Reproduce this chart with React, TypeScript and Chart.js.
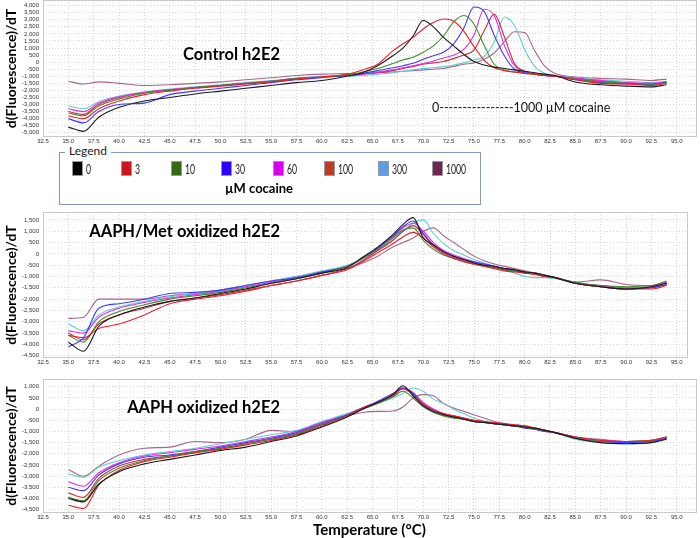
import React, { useEffect, useRef } from "react";
import { Chart, registerables } from "chart.js";
Chart.register(...registerables);

// Temperature grid (°C) shared by all series
const TEMPS = [35, 36.5, 38, 40, 42.5, 45, 47.5, 50, 52.5, 55, 57.5, 60, 62.5, 64, 65.5, 67, 68, 69, 70, 71, 72, 73, 74, 75, 76, 77, 78, 79, 80, 81, 82, 83, 85, 87.5, 90, 92.5, 94];

const CONC_LABELS = ["0", "3", "10", "30", "60", "100", "300", "1000"];
const LINE_COLORS = ["#1a1a1a", "#e8202a", "#3c8c28", "#3b3bff", "#e629e6", "#d02a3c", "#5ccdd2", "#a8648a"];
const LEGEND_COLORS = ["#000000", "#c9191f", "#346a13", "#2d00f7", "#d600ef", "#c13b22", "#5c9fe8", "#6f2551"];

// Tick values
const X_TICKS = [32.5, 35, 37.5, 40, 42.5, 45, 47.5, 50, 52.5, 55, 57.5, 60, 62.5, 65, 67.5, 70, 72.5, 75, 77.5, 80, 82.5, 85, 87.5, 90, 92.5, 95];
const CTRL_Y_TICKS = [-5000, -4500, -4000, -3500, -3000, -2500, -2000, -1500, -1000, -500, 0, 500, 1000, 1500, 2000, 2500, 3000, 3500, 4000];
const MET_Y_TICKS = [-4500, -4000, -3500, -3000, -2500, -2000, -1500, -1000, -500, 0, 500, 1000, 1500];
const OX_Y_TICKS = [-4500, -4000, -3500, -3000, -2500, -2000, -1500, -1000, -500, 0, 500, 1000];

// Panel 1: Control h2E2
const CTRL_0 = [-4600, -4900, -3900, -3200, -2750, -2500, -2250, -2050, -1850, -1650, -1450, -1300, -1000, -750, -250, 450, 1000, 1850, 2950, 2500, 1750, 1150, 550, 50, -200, -350, -450, -550, -650, -750, -850, -950, -1400, -1600, -1700, -1750, -1600];
const CTRL_3 = [-3800, -4000, -3300, -2750, -2300, -2050, -1850, -1700, -1550, -1400, -1200, -1050, -850, -550, -150, 800, 1300, 1750, 2350, 2800, 3050, 2900, 2200, 1100, 150, -400, -600, -700, -800, -850, -950, -1000, -1250, -1500, -1550, -1650, -1500];
const CTRL_10 = [-3600, -3800, -3100, -2600, -2200, -2000, -1800, -1650, -1500, -1350, -1150, -1050, -900, -700, -450, -100, 150, 350, 700, 1150, 1850, 2850, 3300, 2700, 1200, -150, -550, -700, -800, -850, -900, -1000, -1200, -1400, -1500, -1550, -1450];
const CTRL_30 = [-4000, -4300, -3500, -3000, -2900, -2300, -2050, -1850, -1650, -1450, -1250, -1100, -950, -800, -600, -400, -250, -80, 200, 450, 700, 1300, 2400, 3900, 3600, 1900, 450, -500, -750, -850, -950, -1000, -1250, -1450, -1550, -1600, -1450];
const CTRL_60 = [-3300, -3500, -2900, -2450, -2150, -1950, -1800, -1650, -1500, -1350, -1150, -1050, -950, -850, -700, -550, -400, -250, -100, 80, 300, 500, 900, 1900, 3750, 3300, 1200, -250, -700, -850, -950, -1000, -1150, -1300, -1450, -1500, -1400];
const CTRL_100 = [-3500, -3700, -3000, -2500, -2150, -1950, -1800, -1650, -1500, -1350, -1200, -1050, -950, -850, -750, -600, -450, -300, -150, -50, 50, 250, 500, 850, 2200, 3400, 1800, -100, -650, -850, -950, -1000, -1150, -1350, -1450, -1550, -1400];
const CTRL_300 = [-3100, -3300, -2800, -2400, -2100, -1900, -1750, -1600, -1450, -1300, -1150, -1000, -1000, -950, -850, -750, -650, -550, -450, -400, -320, -200, -50, 150, 400, 1400, 3200, 2600, 900, -300, -800, -950, -1100, -1250, -1350, -1450, -1350];
const CTRL_1000 = [-1350, -1550, -1400, -1500, -1650, -1600, -1500, -1400, -1250, -1100, -950, -850, -800, -800, -750, -700, -650, -600, -550, -500, -450, -300, -150, -50, 200, 650, 1450, 2150, 2100, 800, -300, -800, -1050, -1150, -1200, -1300, -1200];

// Panel 2: AAPH/Met oxidized h2E2
const MET_0 = [-3900, -4300, -3200, -2700, -2350, -2100, -1950, -1750, -1550, -1300, -1100, -850, -600, -150, 300, 850, 1300, 1600, 700, 400, 100, -100, -250, -400, -500, -550, -650, -700, -800, -850, -950, -1050, -1300, -1450, -1550, -1450, -1300];
const MET_3 = [-3600, -3700, -3300, -3100, -2700, -2200, -2000, -1850, -1650, -1400, -1200, -950, -700, -350, 50, 450, 750, 950, 700, 300, 0, -200, -350, -450, -550, -650, -750, -800, -850, -900, -1000, -1050, -1300, -1450, -1550, -1550, -1400];
const MET_10 = [-3600, -3900, -3000, -2550, -2250, -2000, -1850, -1700, -1500, -1300, -1100, -850, -550, -200, 200, 700, 1050, 1150, 600, 200, -50, -200, -350, -450, -550, -600, -700, -750, -800, -850, -950, -1050, -1250, -1400, -1450, -1400, -1200];
const MET_30 = [-4100, -3700, -2400, -2200, -2000, -1750, -1700, -1600, -1400, -1200, -1050, -800, -550, -200, 250, 800, 1200, 1450, 900, 400, 100, -100, -250, -350, -450, -550, -650, -750, -800, -850, -950, -1050, -1300, -1450, -1550, -1500, -1350];
const MET_60 = [-3400, -3500, -2800, -2400, -2150, -1950, -1800, -1650, -1450, -1250, -1050, -800, -550, -200, 250, 750, 1150, 1350, 1000, 500, 150, -50, -200, -350, -450, -550, -650, -700, -800, -850, -950, -1050, -1300, -1400, -1500, -1450, -1250];
const MET_100 = [-3500, -3800, -3100, -2700, -2400, -2100, -1950, -1800, -1600, -1400, -1200, -950, -650, -300, 150, 600, 1000, 1250, 850, 350, 50, -150, -300, -400, -500, -600, -700, -750, -850, -900, -1000, -1050, -1300, -1450, -1550, -1500, -1350];
const MET_300 = [-3100, -3400, -2700, -2350, -2100, -1900, -1750, -1600, -1400, -1200, -1000, -750, -500, -200, 150, 600, 1000, 1350, 1500, 900, 450, 150, -50, -250, -400, -550, -700, -850, -1000, -1050, -1050, -1100, -1250, -1400, -1500, -1450, -1300];
const MET_1000 = [-2850, -2800, -2000, -2000, -2000, -1850, -1750, -1600, -1400, -1200, -1000, -800, -650, -400, -100, 300, 500, 700, 1000, 1150, 800, 500, 200, -100, -300, -450, -550, -650, -750, -850, -950, -1050, -1250, -1150, -1350, -1400, -1250];

// Panel 3: AAPH oxidized h2E2
const OX_0 = [-4000, -4150, -3350, -2800, -2450, -2250, -2050, -1850, -1700, -1450, -1200, -800, -350, 0, 300, 650, 1050, 600, 150, -100, -250, -350, -450, -550, -600, -650, -700, -750, -800, -850, -950, -1050, -1300, -1500, -1550, -1500, -1350];
const OX_3 = [-4300, -4450, -3400, -2750, -2350, -2150, -1950, -1800, -1600, -1400, -1150, -750, -300, 50, 300, 600, 900, 650, 200, -50, -200, -300, -400, -500, -550, -600, -650, -700, -750, -850, -950, -1050, -1250, -1400, -1450, -1400, -1250];
const OX_10 = [-3950, -4100, -3200, -2650, -2300, -2100, -1900, -1750, -1550, -1350, -1100, -700, -300, 0, 250, 550, 800, 500, 100, -150, -300, -400, -450, -550, -600, -650, -700, -750, -800, -900, -950, -1050, -1250, -1450, -1450, -1400, -1250];
const OX_30 = [-3500, -3650, -2950, -2450, -2150, -2050, -1900, -1700, -1500, -1300, -1050, -650, -250, 50, 350, 700, 950, 700, 200, -50, -250, -350, -450, -550, -600, -650, -700, -750, -850, -900, -1000, -1050, -1300, -1450, -1500, -1450, -1300];
const OX_60 = [-3250, -3450, -2850, -2400, -2100, -1950, -1800, -1650, -1450, -1250, -1000, -600, -250, 50, 300, 650, 950, 750, 300, 0, -200, -350, -450, -550, -600, -650, -700, -750, -800, -900, -1000, -1050, -1250, -1400, -1450, -1450, -1300];
const OX_100 = [-3750, -3950, -3100, -2550, -2250, -2100, -1950, -1750, -1550, -1350, -1100, -700, -300, 0, 300, 600, 950, 700, 250, 0, -200, -300, -400, -500, -550, -650, -700, -750, -800, -850, -950, -1050, -1300, -1450, -1450, -1450, -1300];
const OX_300 = [-2900, -3050, -2600, -2300, -2050, -1900, -1750, -1550, -1350, -1150, -950, -550, -200, 50, 250, 500, 700, 950, 800, 450, 250, 0, -200, -400, -550, -650, -700, -750, -800, -850, -950, -1050, -1350, -1500, -1550, -1500, -1300];
const OX_1000 = [-2700, -3000, -2550, -2050, -1750, -1700, -1450, -1500, -1350, -950, -1000, -600, -300, -150, -100, -80, 100, 500, 650, 600, 250, 50, -100, -250, -400, -550, -650, -700, -750, -850, -950, -1050, -1250, -1350, -1450, -1400, -1250];

const CONTROL_SERIES = [CTRL_0, CTRL_3, CTRL_10, CTRL_30, CTRL_60, CTRL_100, CTRL_300, CTRL_1000];
const MET_SERIES = [MET_0, MET_3, MET_10, MET_30, MET_60, MET_100, MET_300, MET_1000];
const OX_SERIES = [OX_0, OX_3, OX_10, OX_30, OX_60, OX_100, OX_300, OX_1000];

const boxPlugin = {
  id: "plotBox",
  beforeDatasetsDraw(chart: any) {
    const { ctx, chartArea: a } = chart;
    ctx.save();
    ctx.strokeStyle = "#c9c9c9";
    ctx.lineWidth = 1;
    ctx.strokeRect(Math.round(a.left) + 0.5, Math.round(a.top) + 0.5, Math.round(a.width) - 1, Math.round(a.height) - 1);
    ctx.restore();
  },
};

type PanelProps = {
  top: number;
  height: number;
  padTop: number;
  padRight: number;
  yMin: number;
  yMax: number;
  xMax: number;
  yTicks: number[];
  series: number[][];
};

function Panel({ top, height, padTop, padRight, yMin, yMax, xMax, yTicks, series }: PanelProps) {
  const ref = useRef<HTMLCanvasElement>(null);
  useEffect(() => {
    const chart = new Chart(ref.current as HTMLCanvasElement, {
      type: "line",
      data: {
        datasets: series.map((vals, i) => ({
          label: CONC_LABELS[i],
          data: TEMPS.map((t, j) => ({ x: t, y: vals[j] })),
          borderColor: LINE_COLORS[i],
          borderWidth: 1.1,
          pointRadius: 0,
          fill: false,
          cubicInterpolationMode: "monotone",
        })),
      },
      options: {
        responsive: false,
        animation: false,
        events: [],
        layout: { padding: { top: padTop, right: padRight, left: 0, bottom: 0 } },
        plugins: { legend: { display: false }, tooltip: { enabled: false } },
        scales: {
          x: {
            type: "linear",
            min: 32.5,
            max: xMax,
            afterBuildTicks: (s: any) => {
              s.ticks = X_TICKS.map((v) => ({ value: v }));
            },
            afterFit: (s: any) => {
              s.height = 11;
              s.paddingLeft = 0;
              s.paddingRight = 0;
            },
            grid: { color: "#d6d6d6", drawTicks: false },
            border: { display: false, dash: [1, 2] },
            ticks: {
              autoSkip: false,
              maxRotation: 0,
              padding: 1,
              color: "#333",
              font: { size: 6, family: "Liberation Sans" },
              callback: (v: any) => Number(v).toFixed(1),
            },
          },
          y: {
            min: yMin,
            max: yMax,
            afterBuildTicks: (s: any) => {
              s.ticks = yTicks.map((v) => ({ value: v }));
            },
            afterFit: (s: any) => {
              s.width = 43;
              s.paddingTop = 0;
              s.paddingBottom = 0;
            },
            grid: { color: "#d6d6d6", drawTicks: false },
            border: { display: false, dash: [1, 2] },
            title: {
              display: true,
              text: "d(Fluorescence)/dT",
              color: "#000",
              font: { family: "Lato", weight: "bold", size: 14 },
              padding: { top: 3, bottom: 0 },
            },
            ticks: {
              autoSkip: false,
              padding: 4,
              color: "#333",
              font: { size: 6, family: "Liberation Sans" },
              callback: (v: any) => Number(v).toLocaleString("en-US"),
            },
          },
        },
      } as any,
      plugins: [boxPlugin],
    });
    return () => chart.destroy();
  }, []);
  return <canvas ref={ref} width={700} height={height} style={{ position: "absolute", left: 0, top, width: 700, height }} />;
}

const titleStyle: React.CSSProperties = {
  position: "absolute",
  right: 420,
  fontFamily: "Lato, 'Open Sans', sans-serif",
  fontWeight: 700,
  fontSize: 16.5,
  color: "#000",
  whiteSpace: "nowrap",
  lineHeight: "20px",
};

const SWATCH_X = [72, 121, 171, 221, 273, 324, 378, 432];

export default function App() {
  return (
    <div style={{ position: "fixed", left: 0, top: 0, width: 700, height: 538, background: "#fff", overflow: "hidden" }}>
      <Panel top={0} height={148} padTop={0} padRight={3} yMin={-5300} yMax={4400} xMax={97} yTicks={CTRL_Y_TICKS} series={CONTROL_SERIES} />
      <Panel top={205} height={164} padTop={7} padRight={12} yMin={-4600} yMax={1850} xMax={96.1} yTicks={MET_Y_TICKS} series={MET_SERIES} />
      <Panel top={372} height={152} padTop={7} padRight={3} yMin={-4650} yMax={1350} xMax={97} yTicks={OX_Y_TICKS} series={OX_SERIES} />

      <div style={{ ...titleStyle, top: 44 }}>Control h2E2</div>
      <div style={{ ...titleStyle, top: 221 }}>AAPH/Met oxidized h2E2</div>
      <div style={{ ...titleStyle, top: 397 }}>AAPH oxidized h2E2</div>

      <div style={{ position: "absolute", left: 432, top: 100, fontFamily: "Lato, sans-serif", fontSize: 12.5, lineHeight: "16px", color: "#111", whiteSpace: "nowrap" }}>
        0----------------1000 µM cocaine
      </div>

      {/* Legend box */}
      <div style={{ position: "absolute", left: 59, top: 152, width: 420, height: 51, border: "1px solid #8797b8" }} />
      <div style={{ position: "absolute", left: 65, top: 143, padding: "0 4px", background: "#fff", fontFamily: "Lato, sans-serif", fontSize: 12, lineHeight: "15px", color: "#222" }}>
        Legend
      </div>
      {CONC_LABELS.map((c, i) => (
        <React.Fragment key={c}>
          <div style={{ position: "absolute", left: SWATCH_X[i], top: 161, width: 11, height: 15, background: LEGEND_COLORS[i], border: "1px solid #9a9a9a", boxSizing: "border-box" }} />
          <div style={{ position: "absolute", left: SWATCH_X[i] + 14, top: 161, fontFamily: "Lato, sans-serif", fontSize: 14, lineHeight: "16px", color: "#222", transform: "scaleX(0.62)", transformOrigin: "0 0", whiteSpace: "nowrap" }}>
            {c}
          </div>
        </React.Fragment>
      ))}
      <div style={{ position: "absolute", left: 59, width: 400, top: 180, textAlign: "center", fontFamily: "Lato, sans-serif", fontWeight: 700, fontSize: 13, lineHeight: "16px", color: "#000" }}>
        µM cocaine
      </div>

      <div style={{ position: "absolute", left: 313, top: 520, fontFamily: "Lato, sans-serif", fontWeight: 700, fontSize: 15, lineHeight: "18px", color: "#000", whiteSpace: "nowrap" }}>
        Temperature (°C)
      </div>
    </div>
  );
}
